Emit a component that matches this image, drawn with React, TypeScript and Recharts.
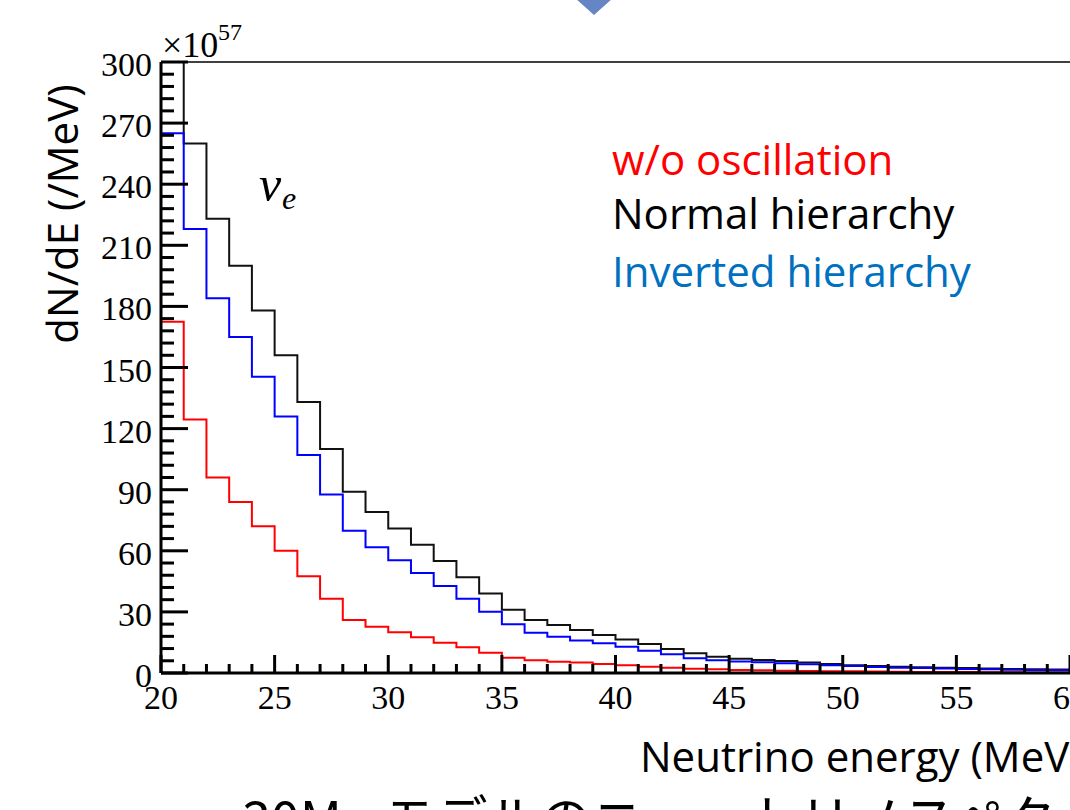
import React from 'react';
import { ComposedChart, Line, XAxis, YAxis, ReferenceLine } from 'recharts';

// lower edge of each 1 MeV bin
const binLow = [
  20, 21, 22, 23, 24, 25, 26, 27, 28, 29,
  30, 31, 32, 33, 34, 35, 36, 37, 38, 39,
  40, 41, 42, 43, 44, 45, 46, 47, 48, 49,
  50, 51, 52, 53, 54, 55, 56, 57, 58, 59,
];

// dN/dE in units of 1e57 /MeV
const noOscillation = [
  172.5, 124.5, 96, 84, 72, 60, 47.5, 36.5, 26, 22.7,
  20, 17.5, 14.9, 12.6, 10, 7.5, 6.2, 5.5, 5.1, 4.4,
  3.8, 3.1, 2.6, 2.1, 1.9, 1.5, 1.3, 1.1, 1.0, 0.9,
  0.8, 0.7, 0.6, 0.55, 0.5, 0.45, 0.4, 0.35, 0.3, 0.3,
];

const normalHierarchy = [
  325, 260, 223, 200, 178, 156, 133, 110, 89, 79,
  71, 63, 55, 47, 39, 31, 26, 23.6, 21.1, 18.7,
  16.5, 14.2, 11.8, 9.7, 8.0, 7.0, 6.4, 5.9, 5.1, 4.4,
  3.8, 3.4, 3.1, 2.8, 2.6, 2.4, 2.2, 2.0, 1.8, 1.7,
];

const invertedHierarchy = [
  265, 218, 184, 165, 145.5, 126, 107, 87.7, 69.8, 61.7,
  55.4, 49.1, 42.7, 36.5, 30.1, 23.9, 19.8, 17.8, 16.0, 14.6,
  12.9, 10.9, 9.2, 7.2, 6.2, 5.7, 5.3, 4.8, 4.3, 3.8,
  3.4, 2.9, 2.6, 2.4, 2.2, 2.0, 1.8, 1.6, 1.5, 1.3,
];

const xTicks = Array.from({ length: 41 }, (_, i) => 20 + i);
const yTicks = Array.from({ length: 51 }, (_, i) => i * 6);

const last = binLow.length - 1;
const chartData = [
  ...binLow.map((e, i) => ({
    e,
    noOsc: noOscillation[i],
    normal: normalHierarchy[i],
    inverted: invertedHierarchy[i],
  })),
  // closing edge so the last bin is drawn to 60 MeV
  { e: 60, noOsc: noOscillation[last], normal: normalHierarchy[last], inverted: invertedHierarchy[last] },
];

const tickFont = 'Liberation Serif, Times New Roman, serif';
const sansFont = '"Open Sans", "Noto Sans", sans-serif';

const XTick = (props: any) => {
  const { x, y, payload } = props;
  const v = payload.value;
  const major = v % 5 === 0;
  return (
    <g>
      <line x1={x} x2={x} y1={y} y2={y - (major ? 18 : 9)} stroke="#000" strokeWidth={3} />
      {major && (
        <text x={x} y={y + 36} textAnchor="middle" fontFamily={tickFont} fontSize={34} fill="#000">
          {v}
        </text>
      )}
    </g>
  );
};

const YTick = (props: any) => {
  const { x, y, payload } = props;
  const v = payload.value;
  const major = v % 30 === 0;
  return (
    <g>
      <line x1={x} x2={x + (major ? 27 : 13)} y1={y} y2={y} stroke="#000" strokeWidth={3} />
      {major && (
        <text x={x - 9} y={y + 14} textAnchor="end" fontFamily={tickFont} fontSize={34} fill="#000">
          {v}
        </text>
      )}
    </g>
  );
};

export default function App() {
  return (
    <div style={{ position: 'fixed', left: 0, top: 0, width: 1070, height: 810, overflow: 'hidden', background: '#fff' }}>
      <ComposedChart
        width={1100}
        height={810}
        data={chartData}
        margin={{ top: 62, right: 30, left: 0, bottom: 0 }}
      >
        <XAxis
          type="number"
          dataKey="e"
          domain={[20, 60]}
          allowDataOverflow
          ticks={xTicks}
          interval={0}
          tickSize={0}
          tickMargin={0}
          tickLine={false}
          tick={XTick}
          height={137}
          axisLine={{ stroke: '#000', strokeWidth: 3 }}
        />
        <YAxis
          type="number"
          domain={[0, 300]}
          allowDataOverflow
          ticks={yTicks}
          interval={0}
          tickSize={0}
          tickMargin={0}
          tickLine={false}
          tick={YTick}
          width={161}
          axisLine={{ stroke: '#000', strokeWidth: 3 }}
        />
        <ReferenceLine y={300} stroke="#000" strokeWidth={1.5} />
        <Line type="stepAfter" dataKey="normal" stroke="#111" strokeWidth={2} dot={false} isAnimationActive={false} />
        <Line type="stepAfter" dataKey="inverted" stroke="#0000ff" strokeWidth={2} dot={false} isAnimationActive={false} />
        <Line type="stepAfter" dataKey="noOsc" stroke="#ff0000" strokeWidth={2} dot={false} isAnimationActive={false} />
      </ComposedChart>

      <svg width={1070} height={810} style={{ position: 'absolute', left: 0, top: 0, pointerEvents: 'none' }}>
        <polygon points="594,-19 613,-2 594,15 575,-2" fill="#6585c5" />

        <text x={162} y={57} fontFamily={tickFont} fontSize={36} fill="#000">
          ×10
        </text>
        <text x={218} y={40} fontFamily={tickFont} fontSize={24} fill="#000">
          57
        </text>

        <text transform="translate(78,214) rotate(-90)" textAnchor="middle" fontFamily={sansFont} fontSize={42} fill="#000">
          dN/dE (/MeV)
        </text>

        <text x={259} y={201} fontFamily={tickFont} fontStyle="italic" fontSize={50} fill="#000">
          ν
        </text>
        <text x={282} y={209} fontFamily={tickFont} fontStyle="italic" fontSize={32} fill="#000">
          e
        </text>

        <text x={612} y={175} fontFamily={sansFont} fontSize={42} fill="#ff0000">
          w/o oscillation
        </text>
        <text x={612} y={229} fontFamily={sansFont} fontSize={42} fill="#000">
          Normal hierarchy
        </text>
        <text x={612} y={287} fontFamily={sansFont} fontSize={42} fill="#0070c0">
          Inverted hierarchy
        </text>

        <text x={640} y={772} fontFamily={sansFont} fontSize={42} fill="#000">
          Neutrino energy (MeV)
        </text>

        <text x={242} y={839} fontFamily={'"Noto Sans CJK JP", sans-serif'} fontSize={52} fill="#000">
          30M<tspan fontSize={30} dy={8}>☉</tspan>
          <tspan dy={-8}> モデルのニュートリノスペクトル</tspan>
        </text>
      </svg>
    </div>
  );
}
